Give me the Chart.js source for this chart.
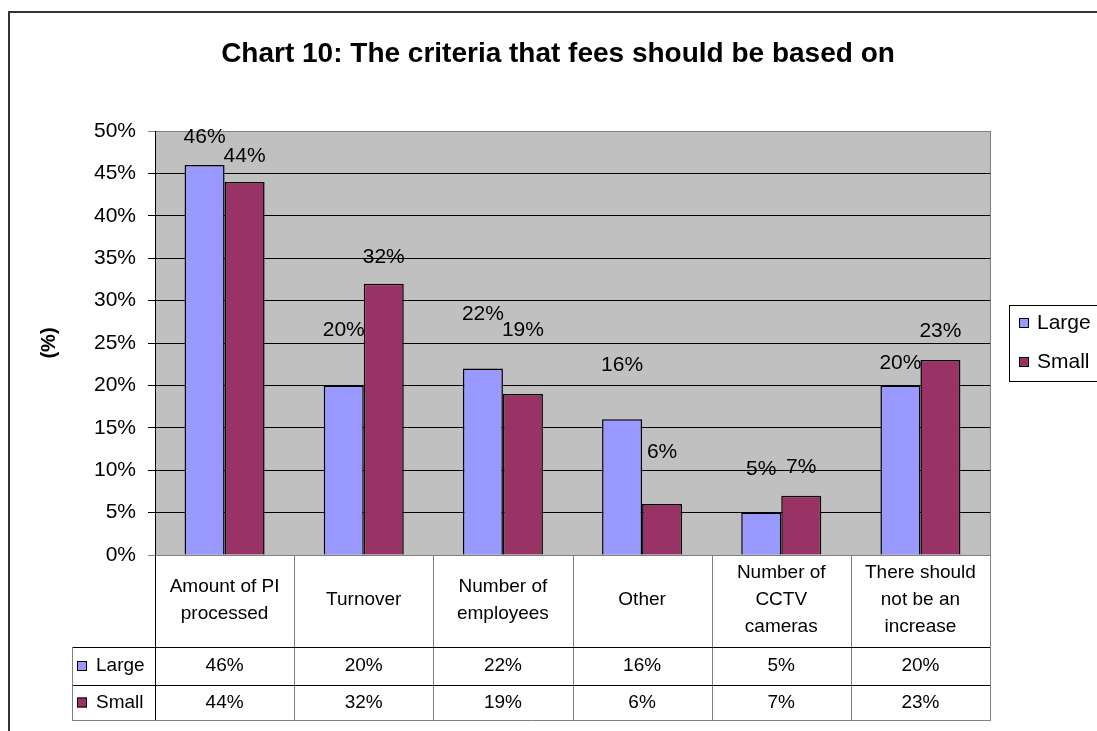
<!DOCTYPE html>
<html>
<head>
<meta charset="utf-8">
<title>Chart 10</title>
<script src="https://cdn.jsdelivr.net/npm/chart.js@4.4.1/dist/chart.umd.min.js"></script>
<style>
html,body{margin:0;padding:0;background:#fff;}
#wrap{position:relative;width:1097px;height:731px;}
</style>
</head>
<body>
<div id="wrap"><canvas id="myChart" width="1097" height="731"></canvas></div>
<script>
var chartTitle = 'Chart 10: The criteria that fees should be based on'
var yTitle = '(%)'
var categories = [['Amount of PI','processed'], ['Turnover'], ['Number of','employees'], ['Other'], ['Number of','CCTV','cameras'], ['There should','not be an','increase']]
var seriesNames = ['Large','Small']
var largeValues = [46, 20, 22, 16, 5, 20]
var smallValues = [44, 32, 19, 6, 7, 23]
var yMin = 0, yMax = 50, yStep = 5

// how far (px) each value label sits above its bar, as placed in the original
var largeLabelLift = [28, 55, 54, 54, 43, 22]
var smallLabelLift = [26, 26, 64, 52, 28, 29]

var FONT = "'Liberation Sans', Arial, sans-serif"
var colors = ['#9999ff', '#993366']

var excelBits = {
    id: 'excelBits',
    beforeDraw: function(chart){
        var ctx = chart.ctx, a = chart.chartArea
        ctx.save()
        ctx.fillStyle = '#ffffff'
        ctx.fillRect(0, 0, chart.width, chart.height)
        ctx.fillStyle = '#c0c0c0'
        ctx.fillRect(a.left, a.top, a.right - a.left, a.bottom - a.top)
        // outer frame of the chart object
        ctx.strokeStyle = '#333333'
        ctx.lineWidth = 2
        ctx.beginPath()
        ctx.moveTo(9, chart.height)
        ctx.lineTo(9, 12)
        ctx.lineTo(chart.width, 12)
        ctx.stroke()
        ctx.restore()
    },
    afterDatasetsDraw: function(chart){
        var ctx = chart.ctx
        var lifts = [largeLabelLift, smallLabelLift]
        ctx.save()
        ctx.font = '21px ' + FONT
        ctx.fillStyle = '#000'
        ctx.textAlign = 'center'
        ctx.textBaseline = 'middle'
        chart.data.datasets.forEach(function(ds, d){
            var meta = chart.getDatasetMeta(d)
            meta.data.forEach(function(bar, i){
                ctx.fillText(ds.data[i] + '%', bar.x, bar.y - lifts[d][i])
            })
        })
        ctx.restore()
    },
    afterDraw: function(chart){
        var ctx = chart.ctx, a = chart.chartArea, x = chart.scales.x
        var half = (x.getPixelForValue(1) - x.getPixelForValue(0)) / 2
        var top = a.bottom, r1 = top + 92, r2 = r1 + 38, r3 = r2 + 35
        var legLeft = 72
        ctx.save()

        // right edge of plot area
        ctx.strokeStyle = '#808080'
        ctx.lineWidth = 1
        ctx.beginPath()
        ctx.moveTo(Math.round(a.right) + 0.5, a.top)
        ctx.lineTo(Math.round(a.right) + 0.5, a.bottom)
        ctx.stroke()

        // title
        ctx.fillStyle = '#000'
        ctx.font = 'bold 28px ' + FONT
        ctx.textAlign = 'center'
        ctx.textBaseline = 'middle'
        ctx.fillText(chartTitle, 558, 54)

        // data table: category row
        ctx.font = '19px ' + FONT
        for (var i = 0; i < categories.length; i++){
            var cx = x.getPixelForValue(i)
            var lines = categories[i]
            var lh = 27
            var y0 = top + 45 - (lines.length - 1) * lh / 2
            for (var k = 0; k < lines.length; k++){
                ctx.fillText(lines[k], cx, y0 + k * lh)
            }
            ctx.fillText(largeValues[i] + '%', cx, (r1 + r2) / 2)
            ctx.fillText(smallValues[i] + '%', cx, (r2 + r3) / 2)
        }

        // table grid
        for (var j = 0; j <= categories.length; j++){
            var bx = j < categories.length ? Math.round(x.getPixelForValue(j) - half) : Math.round(a.right)
            ctx.strokeStyle = j == 0 ? '#000' : '#808080'
            ctx.beginPath()
            ctx.moveTo(bx + 0.5, top)
            ctx.lineTo(bx + 0.5, r3)
            ctx.stroke()
        }
        ctx.strokeStyle = '#000'
        ctx.beginPath()
        ctx.moveTo(legLeft, r1 + 0.5); ctx.lineTo(a.right, r1 + 0.5)
        ctx.moveTo(legLeft, r2 + 0.5); ctx.lineTo(a.right, r2 + 0.5)
        ctx.stroke()
        ctx.strokeStyle = '#808080'
        ctx.beginPath()
        ctx.moveTo(legLeft, r3 + 0.5); ctx.lineTo(a.right + 1, r3 + 0.5)
        ctx.moveTo(legLeft + 0.5, r1); ctx.lineTo(legLeft + 0.5, r3)
        ctx.stroke()

        // legend keys inside the table
        var rows = [(r1 + r2) / 2, (r2 + r3) / 2]
        ctx.textAlign = 'left'
        for (var s = 0; s < seriesNames.length; s++){
            ctx.fillStyle = colors[s]
            ctx.fillRect(77, rows[s] - 5, 10, 10)
            ctx.strokeStyle = '#000'
            ctx.strokeRect(77.5, rows[s] - 4.5, 9, 9)
            ctx.fillStyle = '#000'
            ctx.fillText(seriesNames[s], 96, rows[s])
        }

        // legend box on the right
        ctx.strokeStyle = '#000'
        ctx.strokeRect(1009.5, 305.5, 120, 76)
        ctx.font = '21px ' + FONT
        var ly = [323, 362]
        for (var s2 = 0; s2 < seriesNames.length; s2++){
            ctx.fillStyle = colors[s2]
            ctx.fillRect(1019, ly[s2] - 5, 10, 10)
            ctx.strokeStyle = '#000'
            ctx.strokeRect(1019.5, ly[s2] - 4.5, 9, 9)
            ctx.fillStyle = '#000'
            ctx.fillText(seriesNames[s2], 1037, ly[s2])
        }
        ctx.restore()
    }
}

Chart.defaults.font.family = FONT
Chart.defaults.color = '#000'

new Chart('myChart', {
    type: 'bar',
    data: {
        labels: categories,
        datasets: [{
            label: seriesNames[0],
            data: largeValues,
            backgroundColor: colors[0],
            borderColor: '#000',
            borderWidth: 1.5
        },{
            label: seriesNames[1],
            data: smallValues,
            backgroundColor: colors[1],
            borderColor: '#000',
            borderWidth: 1.5
        }]
    },
    options: {
        responsive: false,
        animation: false,
        layout: { padding: { left: 0, top: 131, right: 107, bottom: 0 } },
        datasets: { bar: { categoryPercentage: 0.575, barPercentage: 1 } },
        plugins: {
            legend: { display: false },
            title: { display: false },
            tooltip: { enabled: false }
        },
        scales: {
            x: {
                ticks: { display: false },
                grid: { display: false },
                border: { display: true, color: '#808080' },
                afterFit: function(scale){ scale.height = 176 }
            },
            y: {
                min: yMin,
                max: yMax,
                ticks: {
                    stepSize: yStep,
                    padding: 12,
                    font: { size: 21 },
                    callback: function(v){ return v + '%' }
                },
                grid: {
                    tickLength: 7,
                    color: function(c){ return (c.tick && (c.tick.value == yMax || c.tick.value == yMin)) ? '#808080' : '#000' }
                },
                border: { display: true, color: '#000' },
                title: {
                    display: true,
                    text: yTitle,
                    font: { size: 20, weight: 'bold' },
                    padding: { top: 37, bottom: 0 }
                },
                afterFit: function(scale){ scale.width = 155 }
            }
        }
    },
    plugins: [excelBits]
})
</script>
</body>
</html>
